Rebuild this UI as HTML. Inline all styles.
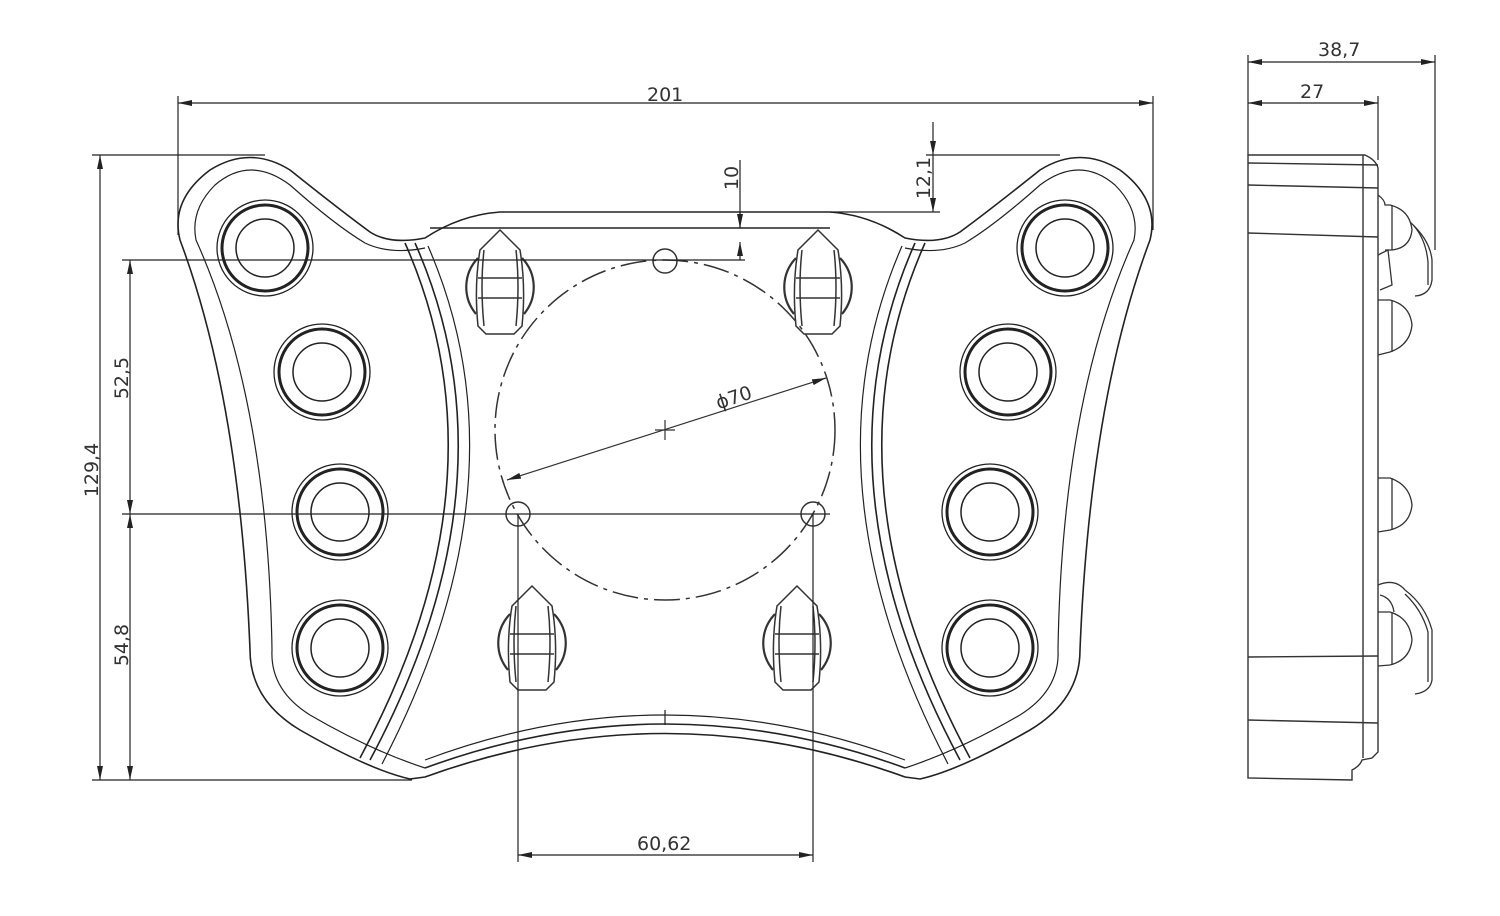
<!DOCTYPE html>
<html><head><meta charset="utf-8"><style>
html,body{margin:0;padding:0;background:#fff;}
svg{display:block;}
text{font-family:"DejaVu Sans","Liberation Sans",sans-serif;font-size:19px;fill:#333;}
</style></head><body>
<svg width="1500" height="916" viewBox="0 0 1500 916" xmlns="http://www.w3.org/2000/svg">
<defs>
<marker id="a" markerWidth="14" markerHeight="8" refX="14" refY="4" orient="auto-start-reverse" markerUnits="userSpaceOnUse">
<path d="M0,1 L14,4 L0,7 Z" fill="#222"/></marker>
<g id="hole" fill="none" stroke="#222">
<circle r="48" stroke-width="1.3"/>
<circle r="43" stroke-width="3"/>
<circle r="29" stroke-width="1.5"/>
</g>
<g id="knob" fill="none" stroke="#333" stroke-width="1.5">
<path d="M-22,-28 A42,42 0 0 0 -24,28 M22,-28 A42,42 0 0 1 24,28" stroke-width="2.2"/>
<path d="M0,-56 L-20,-36 Q-26,0 -22,40 L-14,48 L14,48 L22,40 Q26,0 20,-36 Z"/>
<path d="M-16,-36 Q-20,0 -16,40 M16,-36 Q20,0 16,40"/>
<path d="M-22,-8 H22 M-22,12 H22"/>
</g>
</defs>

<g fill="none" stroke="#222" stroke-width="1.6">
<!-- outer outline -->
<path d="M410,779 L425,777 Q665,690 905,777 L920,779
 Q960,770 1030,730 Q1080,700 1080,650
 Q1090,400 1150,240 Q1160,200 1120,170 Q1080,145 1040,170
 Q990,210 960,232 Q940,245 905,238 Q870,215 830,212 L500,212 Q460,215 425,238
 Q390,245 370,232 Q340,210 290,170 Q250,145 210,170 Q170,200 180,240
 Q240,400 250,650 Q250,700 300,730 Q370,770 410,779 Z"/>
<!-- inner offset outline -->
<path d="M425,768 Q665,680 905,768" />
<path d="M430,228 L830,228" />
<path d="M272,650 Q268,400 196,240 Q190,210 215,185 Q250,155 290,185 Q335,225 365,243 Q390,255 425,248" stroke-width="1.2"/>
<path d="M1058,650 Q1062,400 1134,240 Q1140,210 1115,185 Q1080,155 1040,185 Q995,225 965,243 Q940,255 905,248" stroke-width="1.2"/>
<path d="M272,650 Q270,690 310,715 Q370,750 425,768" stroke-width="1.2"/>
<path d="M1058,650 Q1060,690 1020,715 Q960,750 905,768" stroke-width="1.2"/>
<!-- center bottom inner curve (upper) -->
<path d="M425,760 Q665,670 905,760" stroke-width="1.2"/>
<line x1="665" y1="710" x2="665" y2="725" stroke-width="1.2"/>
<!-- band arcs -->
<path d="M405,243 Q510,480 360,758"/>
<path d="M415,243 Q520,480 370,760"/>
<path d="M428,246 Q530,480 382,764" stroke-width="1.2"/>
<path d="M925,243 Q820,480 970,758"/>
<path d="M915,243 Q810,480 960,760"/>
<path d="M902,246 Q800,480 948,764" stroke-width="1.2"/>
</g>

<!-- holes -->
<use href="#hole" x="265" y="248"/>
<use href="#hole" x="322" y="372"/>
<use href="#hole" x="340" y="512"/>
<use href="#hole" x="340" y="648"/>
<use href="#hole" x="1065" y="248"/>
<use href="#hole" x="1008" y="372"/>
<use href="#hole" x="990" y="512"/>
<use href="#hole" x="990" y="648"/>

<!-- knobs -->
<use href="#knob" x="500" y="286"/>
<use href="#knob" x="818" y="286"/>
<use href="#knob" x="532" y="642"/>
<use href="#knob" x="797" y="642"/>

<!-- dashed circle & small holes -->
<g fill="none" stroke="#333" stroke-width="1.5">
<circle cx="665" cy="430" r="170" stroke-dasharray="26,6,4,6"/>
<circle cx="665" cy="261" r="12"/>
<circle cx="518" cy="514" r="12"/>
<circle cx="813" cy="514" r="12"/>
<path d="M655,430 H675 M665,420 V440" stroke-width="1.2"/>
<line x1="507" y1="480" x2="826" y2="378" stroke-width="1.2" marker-start="url(#a)" marker-end="url(#a)"/>
</g>
<text x="715" y="402" transform="rotate(-18 740 395)">ϕ70</text>

<!-- dimensions main view -->
<g stroke="#222" stroke-width="1.2" fill="none">
<line x1="178" y1="96" x2="178" y2="235"/>
<line x1="1153" y1="96" x2="1153" y2="230"/>
<line x1="178" y1="103" x2="1153" y2="103" marker-start="url(#a)" marker-end="url(#a)"/>
<line x1="92" y1="155" x2="265" y2="155"/>
<line x1="92" y1="780" x2="412" y2="780"/>
<line x1="100" y1="155" x2="100" y2="780" marker-start="url(#a)" marker-end="url(#a)"/>
<line x1="122" y1="260" x2="745" y2="260"/>
<line x1="122" y1="514" x2="830" y2="514"/>
<line x1="130" y1="260" x2="130" y2="514" marker-start="url(#a)" marker-end="url(#a)"/>
<line x1="130" y1="514" x2="130" y2="780" marker-start="url(#a)" marker-end="url(#a)"/>
<line x1="518" y1="514" x2="518" y2="862"/>
<line x1="813" y1="514" x2="813" y2="862"/>
<line x1="518" y1="855" x2="813" y2="855" marker-start="url(#a)" marker-end="url(#a)"/>
<line x1="740" y1="160" x2="740" y2="228" />
<line x1="740" y1="212" x2="740" y2="228" marker-end="url(#a)"/>
<line x1="740" y1="242" x2="740" y2="260" marker-start="url(#a)" />
<line x1="933" y1="122" x2="933" y2="155" marker-end="url(#a)"/>
<line x1="933" y1="155" x2="933" y2="212" marker-end="url(#a)"/>
<line x1="926" y1="155" x2="1060" y2="155"/>
<line x1="830" y1="212" x2="940" y2="212"/>
</g>
<text x="647" y="101">201</text>
<text x="637" y="850">60,62</text>
<text transform="translate(98,470) rotate(-90)" text-anchor="middle">129,4</text>
<text transform="translate(128,378) rotate(-90)" text-anchor="middle">52,5</text>
<text transform="translate(128,645) rotate(-90)" text-anchor="middle">54,8</text>
<text transform="translate(738,178) rotate(-90)" text-anchor="middle">10</text>
<text transform="translate(930,178) rotate(-90)" text-anchor="middle">12,1</text>

<!-- side view -->
<g fill="none" stroke="#333" stroke-width="1.4">
<path d="M1248,155 L1248,778 L1352,780 L1352,770 Q1360,766 1362,760 L1372,758 L1378,752 L1378,168 Q1376,160 1365,155 Z"/>
<line x1="1363" y1="155" x2="1363" y2="758"/>
<line x1="1248" y1="163" x2="1378" y2="165"/>
<line x1="1248" y1="185" x2="1378" y2="188"/>
<line x1="1248" y1="233" x2="1378" y2="237"/>
<line x1="1248" y1="657" x2="1378" y2="656"/>
<line x1="1248" y1="720" x2="1378" y2="723"/>
<g stroke-width="1.3">
<path d="M1378,195 Q1385,200 1385,205 L1390,205 Q1410,210 1412,230 Q1410,248 1392,250 L1385,250"/>
<line x1="1392" y1="205" x2="1392" y2="250"/>
<path d="M1410,222 Q1430,240 1432,260 L1432,280 Q1430,295 1415,296"/>
<path d="M1414,226 Q1426,240 1428,262 L1428,285"/>
<path d="M1378,255 L1388,250 L1392,285 L1380,290"/>
<path d="M1378,300 L1390,300 Q1410,305 1412,325 Q1410,345 1390,352 L1378,355"/>
<line x1="1392" y1="300" x2="1392" y2="352"/>
<path d="M1378,478 L1390,478 Q1410,485 1412,505 Q1410,525 1390,530 L1378,532"/>
<line x1="1392" y1="478" x2="1392" y2="530"/>
<path d="M1378,585 Q1395,578 1405,590 Q1425,605 1432,630 L1432,680 Q1430,692 1415,694"/>
<path d="M1405,594 Q1422,610 1428,632 L1428,682"/>
<path d="M1378,612 L1390,612 Q1410,618 1412,640 Q1410,660 1390,665 L1378,666"/>
<line x1="1392" y1="612" x2="1392" y2="665"/>
<path d="M1380,595 Q1392,598 1394,612"/>
</g>
</g>
<g stroke="#222" stroke-width="1.2" fill="none">
<line x1="1248" y1="55" x2="1248" y2="155"/>
<line x1="1435" y1="55" x2="1435" y2="250"/>
<line x1="1378" y1="96" x2="1378" y2="160"/>
<line x1="1248" y1="62" x2="1435" y2="62" marker-start="url(#a)" marker-end="url(#a)"/>
<line x1="1248" y1="103" x2="1378" y2="103" marker-start="url(#a)" marker-end="url(#a)"/>
</g>
<text x="1318" y="56">38,7</text>
<text x="1300" y="98">27</text>
</svg>
</body></html>
